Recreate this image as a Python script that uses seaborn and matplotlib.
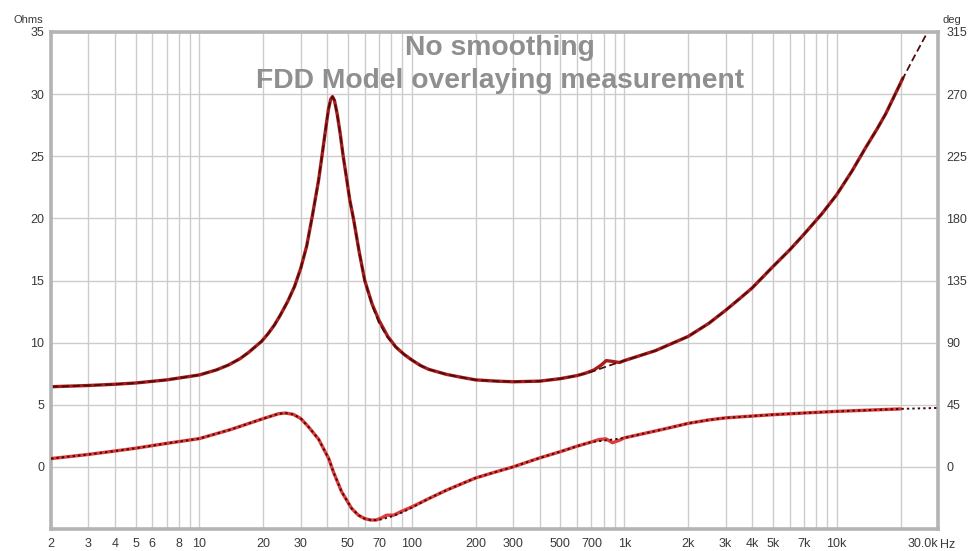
import matplotlib
matplotlib.use("Agg")
import matplotlib.pyplot as plt
import numpy as np
import pandas as pd
import seaborn as sns

# ---------------- data ----------------
# Impedance magnitude, measurement (Ohms)
meas_freq = [2, 3, 4, 5, 7, 10, 12, 13.7, 15.5, 17, 19.6, 21, 22.5, 24, 26, 28, 30, 32,
             34, 36.4, 38, 39.5, 40.5, 41.5, 42.3, 43.2, 44.5, 46, 47.5, 49.4, 51, 53.2,
             56.5, 60, 65, 70, 77, 84, 92, 100, 110, 120, 145, 172, 200, 250, 300, 400,
             500, 600, 660, 720, 780, 822, 870, 950, 1000, 1400, 2000, 2500, 3000, 3500,
             4000, 5000, 6000, 7000, 8500, 10000, 11800, 13700, 15500, 17000, 18500,
             20000, 20500]
meas_ohms = [6.45, 6.55, 6.65, 6.75, 7.0, 7.4, 7.8, 8.2, 8.7, 9.2, 10.1, 10.7, 11.4,
             12.2, 13.3, 14.5, 16.0, 17.8, 20.2, 23.1, 25.4, 27.5, 28.8, 29.6, 29.8,
             29.5, 28.4, 26.8, 25.0, 23.1, 21.5, 19.9, 17.3, 15.0, 13.1, 11.8, 10.5,
             9.65, 9.05, 8.6, 8.15, 7.85, 7.45, 7.2, 7.0, 6.9, 6.85, 6.9, 7.1, 7.35,
             7.55, 7.8, 8.2, 8.55, 8.5, 8.4, 8.55, 9.35, 10.5, 11.55, 12.6, 13.55, 14.4,
             16.1, 17.45, 18.7, 20.35, 21.9, 23.8, 25.7, 27.2, 28.4, 29.7, 30.9, 31.3]

# Impedance magnitude, FDD model (Ohms)
model_freq = [2, 3, 4, 5, 7, 10, 12, 13.7, 15.5, 17, 19.6, 21, 22.5, 24, 26, 28, 30, 32,
              34, 36.4, 38, 39.5, 40.5, 41.5, 42.3, 43.2, 44.5, 46, 47.5, 49.4, 51, 53.2,
              56.5, 60, 65, 70, 77, 84, 92, 100, 110, 120, 145, 172, 200, 250, 300, 400,
              500, 600, 700, 800, 900, 1000, 1400, 2000, 2500, 3000, 3500, 4000, 5000,
              6000, 7000, 8500, 10000, 11800, 13700, 15500, 17000, 18500, 20000, 23000,
              26800, 30000]
model_ohms = [6.45, 6.55, 6.65, 6.75, 7.0, 7.4, 7.8, 8.2, 8.7, 9.2, 10.1, 10.7, 11.4,
              12.2, 13.3, 14.5, 16.0, 17.8, 20.2, 23.1, 25.4, 27.5, 28.8, 29.6, 29.8,
              29.5, 28.4, 26.8, 25.0, 23.1, 21.5, 19.9, 17.3, 15.0, 13.0, 11.6, 10.4,
              9.65, 9.05, 8.6, 8.15, 7.85, 7.45, 7.2, 7.0, 6.9, 6.85, 6.9, 7.1, 7.35,
              7.65, 8.0, 8.3, 8.55, 9.35, 10.5, 11.55, 12.6, 13.55, 14.4, 16.1, 17.45,
              18.7, 20.35, 21.9, 23.8, 25.7, 27.2, 28.4, 29.7, 30.9, 32.9, 35.0, 37.0]

# Phase, measurement (deg)
phase_meas_freq = [2, 3, 4, 5, 7, 10, 14, 20, 23.6, 25.4, 27.7, 30, 32.6, 36.4, 40.6,
                   42.8, 46.7, 52, 56, 60, 64, 67.8, 72, 76, 82, 90, 100, 120, 145, 170,
                   200, 250, 300, 400, 500, 600, 700, 760, 820, 880, 950, 1000, 1500,
                   2000, 2500, 3000, 4000, 5000, 7000, 10000, 20000]
phase_meas_deg = [6.0, 9.0, 11.5, 13.5, 17.0, 20.5, 27.0, 35.0, 38.5, 39.0, 38.0, 35.0,
                  29.0, 20.0, 6.0, -4.0, -18.0, -30.0, -35.0, -37.5, -38.5, -38.5, -37.0,
                  -35.0, -35.0, -32.0, -29.0, -23.0, -17.0, -12.5, -8.0, -3.5, 0.0, 6.5,
                  11.0, 15.0, 18.0, 19.8, 20.3, 17.5, 19.3, 21.0, 27.0, 31.5, 34.0, 35.5,
                  36.8, 37.8, 39.0, 40.2, 42.0]

# Phase, FDD model (deg)
phase_model_freq = [2, 3, 4, 5, 7, 10, 14, 20, 23.6, 25.4, 27.7, 30, 32.6, 36.4, 40.6,
                    42.8, 46.7, 52, 56, 60, 64, 67.8, 72, 80, 90, 100, 120, 145, 170, 200,
                    250, 300, 400, 500, 600, 700, 800, 900, 1000, 1500, 2000, 2500, 3000,
                    4000, 5000, 7000, 10000, 20000, 30000]
phase_model_deg = [6.0, 9.0, 11.5, 13.5, 17.0, 20.5, 27.0, 35.0, 38.5, 39.0, 38.0, 35.0,
                   29.0, 20.0, 6.0, -4.0, -18.0, -30.0, -35.0, -37.5, -38.5, -38.5, -38.0,
                   -36.0, -33.0, -29.5, -23.0, -17.0, -12.5, -8.0, -3.5, 0.0, 6.5, 11.0,
                   15.0, 18.0, 19.0, 20.0, 21.0, 27.0, 31.5, 34.0, 35.5, 36.8, 37.8, 39.0,
                   40.2, 42.0, 42.7]

# Axis ticks / labels
x_grid = [2, 3, 4, 5, 6, 7, 8, 9, 10, 20, 30, 40, 50, 60, 70, 80, 90, 100,
          200, 300, 400, 500, 600, 700, 800, 900, 1000, 2000, 3000, 4000, 5000,
          6000, 7000, 8000, 9000, 10000, 20000]
x_label_vals = [2, 3, 4, 5, 6, 8, 10, 20, 30, 50, 70, 100, 200, 300, 500, 700,
                1000, 2000, 3000, 4000, 5000, 7000, 10000]
x_label_txt = ["2", "3", "4", "5", "6", "8", "10", "20", "30", "50", "70", "100",
               "200", "300", "500", "700", "1k", "2k", "3k", "4k", "5k", "7k", "10k"]
ohm_ticks = [0, 5, 10, 15, 20, 25, 30, 35]
deg_ticks = [0, 45, 90, 135, 180, 225, 270, 315]
title_lines = ["No smoothing", "FDD Model overlaying measurement"]

# ---------------- plotting ----------------
sns.set_theme(style="white")
plt.rcParams["font.family"] = ["Liberation Sans", "DejaVu Sans"]

W, H = 970, 551
fig = plt.figure(figsize=(W / 100, H / 100), dpi=100)
L, R, T, B = 51, 938, 32, 529
ax = fig.add_axes([L / W, (H - B) / H, (R - L) / W, (B - T) / H])
ax.set_xscale("log")
ax2 = ax.twinx()

mag_meas = pd.DataFrame({"f": meas_freq, "v": meas_ohms})
mag_model = pd.DataFrame({"f": model_freq, "v": model_ohms})
ph_meas = pd.DataFrame({"f": phase_meas_freq, "v": phase_meas_deg})
ph_model = pd.DataFrame({"f": phase_model_freq, "v": phase_model_deg})

sns.lineplot(data=mag_meas, x="f", y="v", ax=ax, color="#a81c1c", lw=2.4,
             estimator=None, sort=True)
sns.lineplot(data=mag_model, x="f", y="v", ax=ax, color="#4e0c0c", lw=1.3,
             estimator=None, sort=True, linestyle=(0, (4, 2)))
sns.lineplot(data=ph_meas, x="f", y="v", ax=ax2, color="#e03a3a", lw=2.4,
             estimator=None, sort=True)
sns.lineplot(data=ph_model, x="f", y="v", ax=ax2, color="#3a0c0c", lw=1.4,
             estimator=None, sort=True, linestyle=(0, (1.2, 1.6)))

ax.set_xlim(2, 30000)
ax.set_ylim(-5, 35)
ax2.set_ylim(-45, 315)

# grid
ax.set_xticks(x_grid, minor=False)
ax.set_xticklabels([""] * len(x_grid))
ax.xaxis.set_minor_locator(matplotlib.ticker.NullLocator())
ax.grid(True, axis="x", color="#cccccc", lw=1.0)
ax.set_yticks([-5] + ohm_ticks)
ax.set_yticklabels([""] + [str(t) for t in ohm_ticks])
ax.grid(True, axis="y", color="#cccccc", lw=1.0)
ax2.set_yticks(deg_ticks)
ax2.set_yticklabels([str(t) for t in deg_ticks])
ax2.grid(False)

ax.set_xlabel("")
ax.set_ylabel("")
ax2.set_ylabel("")

ax.tick_params(axis="both", length=0, labelsize=9, colors="#3a3a3a", pad=5)
ax2.tick_params(axis="y", length=0, labelsize=9, colors="#3a3a3a", pad=6)

# x labels as text at frequency positions
trans = matplotlib.transforms.blended_transform_factory(ax.transData, ax.transAxes)
for v, t in zip(x_label_vals, x_label_txt):
    ax.text(v, -0.018, t, transform=trans, ha="center", va="top", fontsize=9,
            color="#3a3a3a")
ax.text(30000, -0.018, "30.0k", transform=trans, ha="right", va="top", fontsize=9,
        color="#3a3a3a")
fig.text(940 / W, 1 - 545 / H, "Hz", ha="left", va="center", fontsize=9, color="#3a3a3a")

for s in ax.spines.values():
    s.set_color("#b4b4b4")
    s.set_linewidth(2.6)
for s in ax2.spines.values():
    s.set_visible(False)

fig.text(28 / W, 1 - 20 / H, "Ohms", ha="center", va="center", fontsize=8,
         color="#3a3a3a")
fig.text(943 / W, 1 - 20 / H, "deg", ha="left", va="center", fontsize=8,
         color="#3a3a3a")

fig.text(500 / W, 1 - 48 / H, title_lines[0], ha="center", va="center", fontsize=20.3,
         fontweight="bold", color="#8f8f8f")
fig.text(500 / W, 1 - 81 / H, title_lines[1], ha="center", va="center", fontsize=20.3,
         fontweight="bold", color="#8f8f8f")

fig.savefig("out.png", dpi=100)
